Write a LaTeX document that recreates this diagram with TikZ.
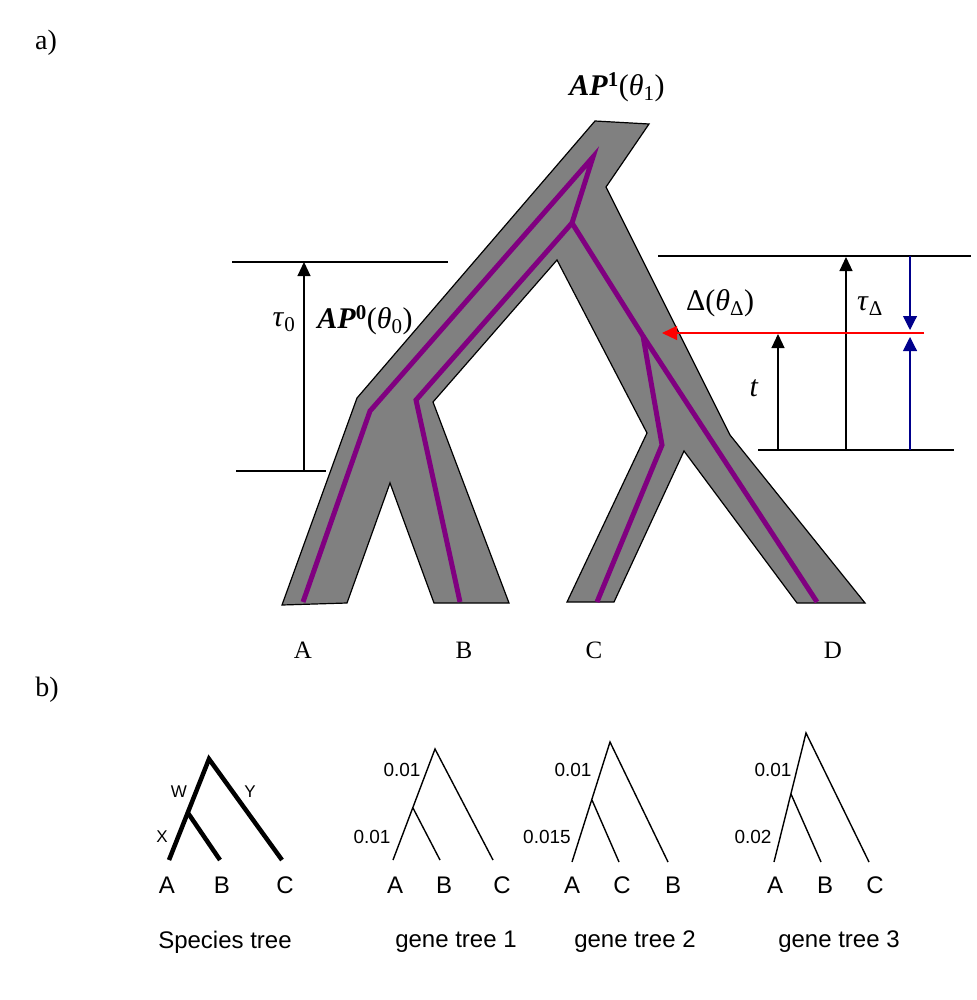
\documentclass[tikz,border=0pt]{standalone}
\usepackage{fontspec}
\setmainfont{Liberation Serif}
\setsansfont{Liberation Sans}
\usetikzlibrary{arrows.meta}
\definecolor{lineage}{RGB}{128,0,128}
\definecolor{popgray}{RGB}{128,128,128}
\definecolor{navyarrow}{RGB}{0,0,140}
\begin{document}
\begin{tikzpicture}[x=1pt,y=-1pt,
  panel/.style={font=\fontsize{28}{30}\selectfont, inner sep=0},
  leaf/.style={font=\fontsize{25}{27}\selectfont, inner sep=0},
  mlab/.style={font=\fontsize{30}{32}\selectfont, inner sep=0},
  level/.style={line width=1.3pt},
  uparrow/.style={line width=1.1pt, -{Triangle[length=14pt,width=13pt]}},
  bluearrow/.style={navyarrow, line width=1.1pt, -{Triangle[length=14pt,width=14pt]}},
  redarrow/.style={red, line width=1.1pt, -{Triangle[length=15pt,width=14pt]}},
  lin/.style={lineage, line width=5pt},
  sptree/.style={line width=4.5pt},
  gtree/.style={line width=1.4pt},
  sfl/.style={font=\sffamily\fontsize{24}{26}\selectfont, inner sep=0},
  sfs/.style={font=\sffamily\fontsize{17}{19}\selectfont, inner sep=0},
  sfn/.style={font=\sffamily\fontsize{19}{21}\selectfont, inner sep=0}]
\useasboundingbox (0,0) rectangle (976,1000);

% ---------- panel labels
\node[panel] (pa) at (46,43) {a)};
\node[panel] (pb) at (47,690) {b)};

% ---------- population tree (gray)
\draw[fill=popgray, line width=1.2pt, line join=miter]
  (595,121) -- (649,124) -- (606,187) -- (730,435) -- (865,603) -- (797,603)
  -- (684,451) -- (614,602) -- (567,602) -- (647,433) -- (557,260) -- (433,402)
  -- (509,603) -- (434,603) -- (390,483) -- (347,603) -- (282,605) -- (357,398) -- cycle;

% ---------- gene lineages (purple)
\coordinate (top) at (593,157);
\coordinate (j1) at (572,223);
\coordinate (j2) at (643,336);
\coordinate (la) at (303,602);
\coordinate (lb) at (460,602);
\coordinate (lc) at (597,602);
\coordinate (ld) at (817,602);
\draw[lin] (la) -- (370,411) -- (top) -- (j1);
\draw[lin] (lb) -- (416,400) -- (j1) -- (j2) -- (ld);
\draw[lin] (j2) -- (662,445) -- (lc);

% ---------- tip labels
\node[leaf] (tA) at (303,650) {A};
\node[leaf] (tB) at (464,650) {B};
\node[leaf] (tC) at (594,650) {C};
\node[leaf] (tD) at (833,650) {D};

% ---------- tau0
\coordinate (t0a) at (232,262); \coordinate (t0b) at (448,262);
\coordinate (t0c) at (236,471); \coordinate (t0d) at (326,471);
\coordinate (t0lo) at (304,471); \coordinate (t0hi) at (304,262);
\draw[level] (t0a) -- (t0b);
\draw[level] (t0c) -- (t0d);
\draw[uparrow] (t0lo) -- (t0hi);
\node[mlab] (tau0) at (284,322) {\textit{τ}\textsubscript{0}};
\node[mlab] (ap0) at (365,320) {{\bfseries\itshape AP}\textsuperscript{\bfseries 0}(\textit{θ}\textsubscript{0})};
\node[mlab] (ap1) at (617,87) {{\bfseries\itshape AP}\textsuperscript{\bfseries 1}(\textit{θ}\textsubscript{1})};

% ---------- introgression
\coordinate (ra) at (658,256); \coordinate (rb) at (971,256);
\coordinate (rc) at (758,450); \coordinate (rd) at (954,450);
\draw[level] (ra) -- (rb);
\draw[level] (rc) -- (rd);
\coordinate (tdlo) at (846,450); \coordinate (tdhi) at (846,257);
\draw[uparrow] (tdlo) -- (tdhi);
\coordinate (tlo) at (778,450); \coordinate (thi) at (778,334);
\draw[uparrow] (tlo) -- (thi);
\coordinate (redR) at (924,333); \coordinate (redL) at (662,333);
\draw[redarrow] (redR) -- (redL);
\coordinate (bdt) at (910,256); \coordinate (bdb) at (910,330);
\coordinate (bub) at (910,450); \coordinate (but) at (910,337);
\draw[bluearrow] (bdt) -- (bdb);
\draw[bluearrow] (bub) -- (but);
\node[mlab] (dlab) at (720,303) {Δ(\textit{θ}\textsubscript{Δ})};
\node[mlab] (taud) at (870,306) {\textit{τ}\textsubscript{Δ}};
\node[mlab] (tlab) at (754,388) {\textit{t}};

% ---------- species tree
\coordinate (sR) at (209,759); \coordinate (sX) at (188,813);
\coordinate (sA) at (169,860); \coordinate (sB) at (220,860); \coordinate (sC) at (282,860);
\draw[sptree, line join=miter] (sA) -- (sR) -- (sC);
\draw[sptree] (sX) -- (sB);
\node[sfs] (lW) at (179,792) {W};
\node[sfs] (lY) at (250,792) {Y};
\node[sfs] (lX) at (162,837) {X};
\node[sfl] (sa) at (167,885) {A};
\node[sfl] (sb) at (222,885) {B};
\node[sfl] (sc) at (285,885) {C};
\node[sfl] (cap0) at (225,942) {Species tree};

% ---------- gene tree 1
\coordinate (g1R) at (435,749); \coordinate (g1J) at (413,808);
\coordinate (g1A) at (393,860); \coordinate (g1B) at (440,860); \coordinate (g1C) at (493,860);
\draw[gtree] (g1A) -- (g1R) -- (g1C);
\draw[gtree] (g1J) -- (g1B);
\node[sfn] (g1n1) at (402,770) {0.01};
\node[sfn] (g1n2) at (372,837) {0.01};
\node[sfl] (g1a) at (395,885) {A};
\node[sfl] (g1b) at (444,885) {B};
\node[sfl] (g1c) at (502,885) {C};
\node[sfl] (cap1) at (456,942) {gene tree 1};

% ---------- gene tree 2
\coordinate (g2R) at (610,742); \coordinate (g2J) at (592,800);
\coordinate (g2A) at (572,862); \coordinate (g2C) at (619,862); \coordinate (g2B) at (668,862);
\draw[gtree] (g2A) -- (g2R) -- (g2B);
\draw[gtree] (g2J) -- (g2C);
\node[sfn] (g2n1) at (573,770) {0.01};
\node[sfn] (g2n2) at (547,837) {0.015};
\node[sfl] (g2a) at (572,885) {A};
\node[sfl] (g2c) at (622,885) {C};
\node[sfl] (g2b) at (673,885) {B};
\node[sfl] (cap2) at (635,942) {gene tree 2};

% ---------- gene tree 3
\coordinate (g3R) at (806,733); \coordinate (g3J) at (791,794);
\coordinate (g3A) at (774,862); \coordinate (g3B) at (821,862); \coordinate (g3C) at (869,862);
\draw[gtree] (g3A) -- (g3R) -- (g3C);
\draw[gtree] (g3J) -- (g3B);
\node[sfn] (g3n1) at (773,770) {0.01};
\node[sfn] (g3n2) at (753,837) {0.02};
\node[sfl] (g3a) at (775,885) {A};
\node[sfl] (g3b) at (825,885) {B};
\node[sfl] (g3c) at (875,885) {C};
\node[sfl] (cap3) at (839,942) {gene tree 3};
\end{tikzpicture}
\end{document}
